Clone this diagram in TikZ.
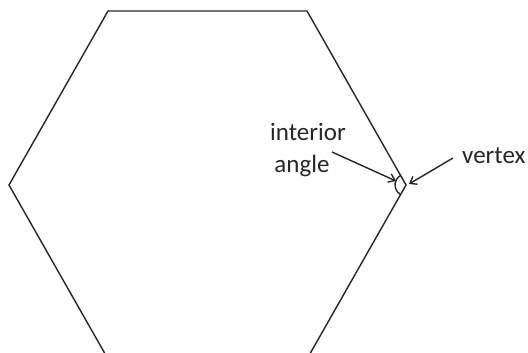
\documentclass[tikz,border=0pt]{standalone}
\usepackage{fontspec}
\setmainfont{Carlito}
\usetikzlibrary{arrows.meta}
\begin{document}
\begin{tikzpicture}[x=1pt,y=-1pt,
  edge/.style={line width=1.4pt,draw=black!85},
  pointer/.style={line width=1.4pt,draw=black!85,-{Straight Barb[length=6pt,width=9pt]}},
  lbl/.style={font=\fontsize{25}{30}\selectfont,text=black!85,inner sep=0pt}]
\useasboundingbox (0,0) rectangle (528,353);
\clip (0,0) rectangle (528,353);
\coordinate (A) at (108,11);
\coordinate (B) at (307,11);
\coordinate (C) at (406,185);
\coordinate (D) at (307,359);
\coordinate (E) at (108,359);
\coordinate (F) at (9,185);
\draw[edge,line join=miter] (A) -- (B) -- (C) -- (D) -- (E) -- (F) -- cycle;
\draw[edge] ([shift={(119.6:11)}]C) arc[start angle=119.6,end angle=240.4,radius=11];
\node[lbl,anchor=base] (int) at (308,140) {interior};
\node[lbl,anchor=base] (ang) at (302,172) {angle};
\node[lbl,anchor=base west] (vtx) at (462,163) {vertex};
\coordinate (s1) at (332,152);
\coordinate (t1) at (396,181);
\coordinate (s2) at (453,158);
\coordinate (t2) at (409,184);
\draw[pointer] (s1) -- (t1);
\draw[pointer] (s2) -- (t2);
\end{tikzpicture}
\end{document}
